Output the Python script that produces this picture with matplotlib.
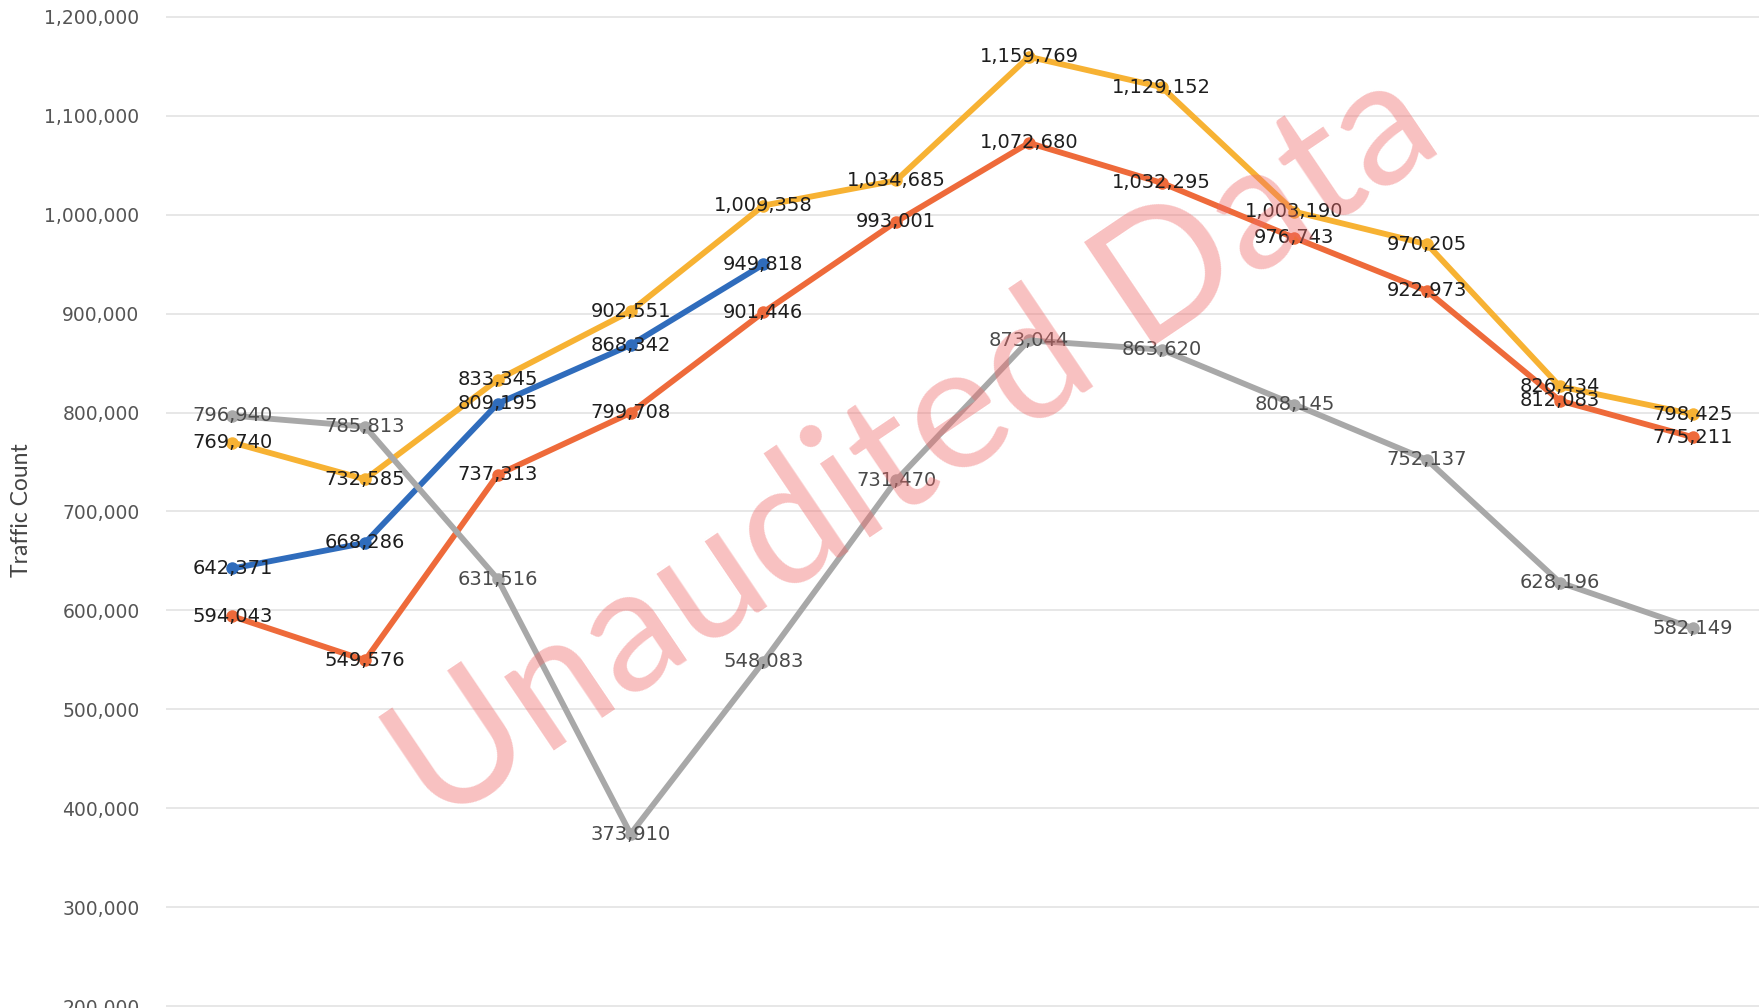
import matplotlib
matplotlib.use("Agg")
import matplotlib.pyplot as plt
from matplotlib.ticker import FuncFormatter, MultipleLocator

months = list(range(12))
series_yellow = [769740, 732585, 833345, 902551, 1009358, 1034685, 1159769, 1129152, 1003190, 970205, 826434, 798425]
series_orange = [594043, 549576, 737313, 799708, 901446, 993001, 1072680, 1032295, 976743, 922973, 812083, 775211]
series_gray = [796940, 785813, 631516, 373910, 548083, 731470, 873044, 863620, 808145, 752137, 628196, 582149]
series_blue = [642371, 668286, 809195, 868342, 949818]
y_label = "Traffic Count"
watermark = "Unaudited Data"

W, H, DPI = 1759, 1008, 100
fig = plt.figure(figsize=(W / DPI, H / DPI), dpi=DPI)
# plot area: 1,200,000 at 17px from top, 200,000 at 1006px from top
per_px = 1_000_000 / 989
ytop = 1_200_000 + 17 * per_px
ybot = 200_000 - (H - 1006) * per_px
ax = fig.add_axes([166 / W, 0, 1 - 166 / W, 1])
ax.set_xlim(-0.5, 11.5)
ax.set_ylim(ybot, ytop)

for s in ax.spines.values():
    s.set_visible(False)
ax.yaxis.set_major_locator(MultipleLocator(100000))
ax.yaxis.set_major_formatter(FuncFormatter(lambda v, p: f"{int(round(v)):,}"))
ax.tick_params(axis="y", length=0, pad=19, labelsize=13.5, labelcolor="#555555")
ax.set_xticks([])
ax.grid(axis="y", color="#e3e3e3", linewidth=1.2, zorder=0)
ax.set_axisbelow(True)

fig.text(22 / W, 1 - 510 / H, y_label, rotation=90, ha="center", va="center",
         fontsize=16.5, color="#444444", family="Lato")

lw = 4.2
ms = 9
styles = [
    (series_yellow, "#f7b233", 3),
    (series_orange, "#ee6a3a", 4),
    (series_blue, "#2f6cbc", 5),
    (series_gray, "#a8a8a8", 6),
]
for vals, col, z in styles:
    xs = months[:len(vals)]
    ax.plot(xs, vals, color=col, linewidth=lw, marker="o", markersize=ms,
            markeredgewidth=0, zorder=z, solid_capstyle="round")

label_colors = {id(series_gray): "#4a4a4a"}
for vals, col, z in styles:
    tc = label_colors.get(id(vals), "#1e1e1e")
    for x, v in zip(months, vals):
        ax.text(x, v, f"{v:,}", ha="center", va="center", fontsize=14,
                color=tc, zorder=10)

# watermark (semi-transparent, over everything)
ax.text(0.47, 0.556, watermark, transform=ax.transAxes, rotation=34,
        ha="center", va="center", fontsize=126, color="#f06a6a", alpha=0.42,
        family="Lato", fontweight="normal", zorder=20)

fig.savefig("out.png", dpi=DPI, facecolor="white")
